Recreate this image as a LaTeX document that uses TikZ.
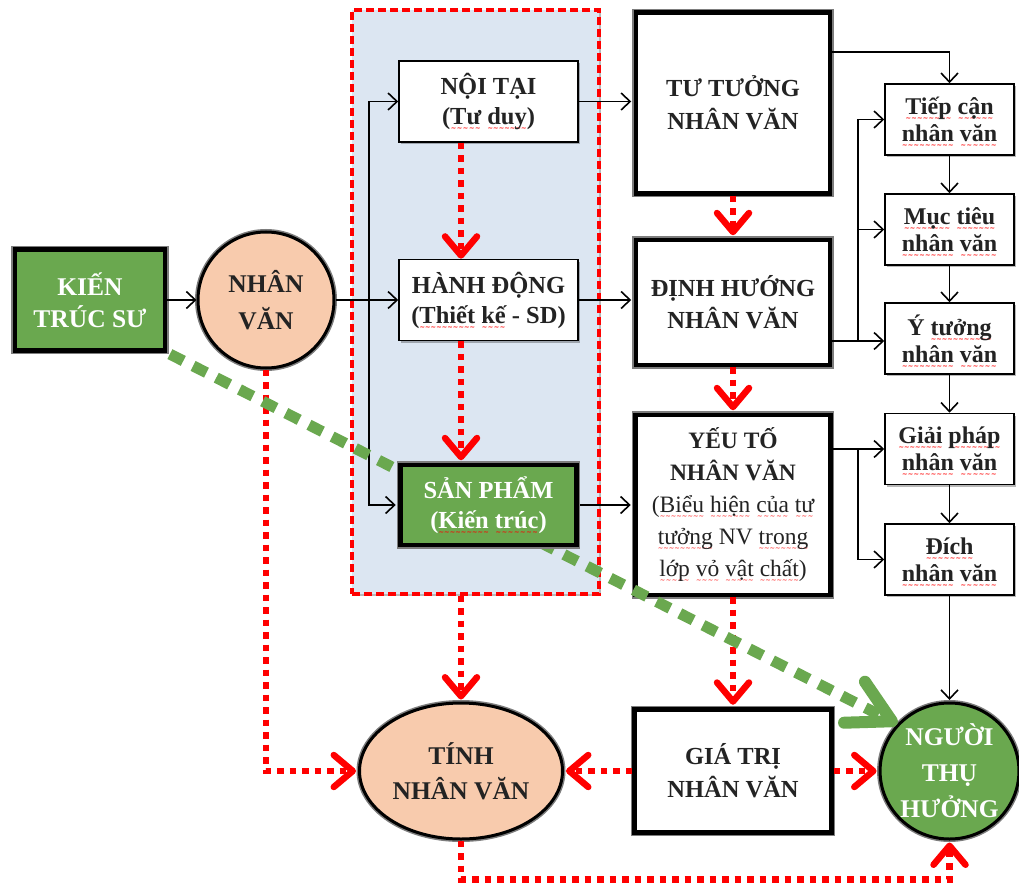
\documentclass[tikz,border=0pt]{standalone}
\usepackage{fontspec}
\setmainfont{Liberation Serif}
\newfontfamily\wavefont{DejaVu Sans}
\usetikzlibrary{arrows.meta,shadows,shapes.geometric}

\definecolor{leaf}{RGB}{106,168,79}
\definecolor{peach}{RGB}{248,203,173}
\definecolor{pale}{RGB}{220,230,242}
\definecolor{ink}{RGB}{35,35,35}
\definecolor{rim}{RGB}{125,125,125}

% red wavy spell-check underline under one word
\newcommand\spl[1]{\leavevmode\setbox0\hbox{#1}%
  \rlap{\raisebox{-6pt}[0pt][0pt]{\color{red}\hbox to \wd0{%
    \xleaders\hbox{\wavefont\fontsize{6.5}{6.5}\selectfont\char"223C}\hfill}}}\box0\relax}

\pgfdeclarelayer{back}
\pgfdeclarelayer{front}
\pgfsetlayers{back,main,front}

\begin{document}
\begin{tikzpicture}[x=1pt,y=-1pt,
  every node/.style={inner sep=0pt, align=center, text=ink},
  bold/.style={font=\bfseries\fontsize{24.5}{#1}\selectfont},
  bold/.default=29,
  bigbold/.style={font=\bfseries\fontsize{25.5}{#1}\selectfont},
  softshadow/.style={drop shadow={shadow xshift=2pt,shadow yshift=-2pt,opacity=.28,fill=black}},
  thinbox/.style={rectangle, draw=black, line width=1.6pt, fill=white, softshadow},
  heavybox/.style={rectangle, draw=black, line width=4.5pt, fill=white, softshadow,
    preaction={draw=rim, line width=7.5pt}},
  blob/.style={ellipse, draw=black, line width=3pt, fill=peach, softshadow,
    preaction={draw=rim, line width=6pt}},
  zone/.style={rectangle, draw=red, line width=3.2pt, dash pattern=on 8pt off 4pt,
    fill=pale, minimum width=247pt, minimum height=584pt, softshadow},
  small/.style={thinbox, font=\bfseries\fontsize{24}{27}\selectfont,
    minimum width=129pt, minimum height=71pt},
  blk/.style={draw=black, line width=1.6pt},
  arr/.style={blk, -{Straight Barb[length=9pt,width=17pt]}},
  reddot/.style={draw=red, line width=6.5pt, dash pattern=on 6.5pt off 6pt,
    -{Straight Barb[length=19pt,width=32pt,line width=6.5pt,round]}},
  grn/.style={draw=leaf, line width=11pt, dash pattern=on 15pt off 11pt,
    -{Straight Barb[length=42pt,width=46pt,line width=12pt,round]}}
]
\useasboundingbox (0,0) rectangle (1019,885);

% shaded block around the design stages
\begin{pgfonlayer}{back}
  \fill[white] (0,0) rectangle (1019,885);
  \node[zone] (zone) at (475.5,302) {};
\end{pgfonlayer}

% left side
\node[heavybox, fill=leaf, text=white, bigbold=32, minimum width=150pt, minimum height=101pt]
  (kts) at (90,300) {KIẾN\\TRÚC SƯ};
\node[blob, bigbold=37, minimum width=136pt, minimum height=136pt]
  (nv) at (266,300) {NHÂN\\VĂN};

% design stages
\node[thinbox, bold=30, minimum width=179pt, minimum height=81pt]
  (noitai) at (488.5,101.5) {NỘI TẠI\\(\spl{Tư} \spl{duy})};
\node[thinbox, bold=30, minimum width=179pt, minimum height=81pt]
  (hanhdong) at (488.5,300) {HÀNH ĐỘNG\\(\spl{Thiết} \spl{kế} - SD)};
\begin{pgfonlayer}{front}
  \node[heavybox, fill=leaf, text=white, bold=30, minimum width=176pt, minimum height=80pt]
    (sanpham) at (488.5,505) {SẢN PHẨM\\(\spl{Kiến} \spl{trúc})};
\end{pgfonlayer}

% humanist content column
\node[heavybox, bold=33, minimum width=194pt, minimum height=181pt]
  (tutuong) at (733,103) {TƯ TƯỞNG\\NHÂN VĂN};
\node[heavybox, bold=32, minimum width=194pt, minimum height=125pt]
  (dinhhuong) at (733,302.5) {ĐỊNH HƯỚNG\\NHÂN VĂN};
\node[heavybox, font=\fontsize{23.5}{32}\selectfont, minimum width=195pt, minimum height=180pt]
  (yeuto) at (733,505) {\textbf{YẾU TỐ}\\\textbf{NHÂN VĂN}\\(\spl{Biểu} \spl{hiện} \spl{của} \spl{tư}\\\spl{tưởng} NV \spl{trong}\\\spl{lớp} \spl{vỏ} \spl{vật} \spl{chất})};

% right column
\node[small] (tiepcan)  at (949.5,119.5) {\spl{Tiếp} \spl{cận}\\\spl{nhân} \spl{văn}};
\node[small] (muctieu)  at (949.5,229.5) {\spl{Mục} \spl{tiêu}\\\spl{nhân} \spl{văn}};
\node[small] (ytuong)   at (949.5,338.5) {Ý \spl{tưởng}\\\spl{nhân} \spl{văn}};
\node[small] (giaiphap) at (949.5,449)   {\spl{Giải} \spl{pháp}\\\spl{nhân} \spl{văn}};
\node[small] (dich)     at (949.5,559.5) {\spl{Đích}\\\spl{nhân} \spl{văn}};

% bottom row
\node[blob, bigbold=35, minimum width=203pt, minimum height=136pt]
  (tinh) at (461,771) {TÍNH\\NHÂN VĂN};
\node[heavybox, bold=33, minimum width=197pt, minimum height=123pt]
  (giatri) at (733,771) {GIÁ TRỊ\\NHÂN VĂN};
\node[blob, fill=leaf, text=white, bigbold=36, minimum width=134pt, minimum height=136pt]
  (nguoi) at (949.5,771) {NGƯỜI\\THỤ\\HƯỞNG};

% black flow lines
\coordinate (j1) at (369,300);
\draw[arr] (kts.east) -- (nv.west);
\draw[arr] (nv.east) -- (hanhdong.west);
\draw[arr] (j1) |- (noitai.west);
\draw[arr, shorten >=2.5pt] (j1) |- (sanpham.west);
\draw[arr, shorten >=2.5pt] (noitai.east) -- (noitai.east -| tutuong.west);
\draw[arr, shorten >=2.5pt] (hanhdong.east) -- (hanhdong.east -| dinhhuong.west);
\draw[arr, shorten >=2.5pt] (sanpham.east) -- (sanpham.east -| yeuto.west);

\draw[arr] (tutuong.east |- 0,52) -| (tiepcan.north);
\draw[arr] (tiepcan.south) -- (muctieu.north);
\draw[arr] (muctieu.south) -- (ytuong.north);
\draw[arr] (ytuong.south) -- (giaiphap.north);
\draw[arr] (giaiphap.south) -- (dich.north);
\draw[arr, shorten >=1.5pt] (dich.south) -- (nguoi.north);

\coordinate (j2) at (858,341);
\draw[arr] (dinhhuong.east |- j2) -- (ytuong.west |- j2);
\draw[arr] (j2) |- (tiepcan.west);
\draw[arr] (j2) |- (muctieu.west);

\coordinate (j3) at (858,449);
\draw[arr] (yeuto.east |- giaiphap.west) -- (giaiphap.west);
\draw[arr] (j3) |- (dich.west);

% red dotted links
\draw[reddot] (noitai.south -| tinh.north) -- (hanhdong.north -| tinh.north);
\draw[reddot, shorten >=2.5pt] (hanhdong.south -| tinh.north) -- (sanpham.north -| tinh.north);
\draw[reddot, shorten >=2.5pt] (tutuong.south) -- (dinhhuong.north);
\draw[reddot, shorten >=2.5pt] (dinhhuong.south) -- (yeuto.north);
\draw[reddot, shorten >=2.5pt] (yeuto.south) -- (giatri.north);
\draw[reddot, shorten >=2pt] (zone.south -| tinh.north) -- (tinh.north);
\draw[reddot, shorten >=2pt] (nv.south) |- (tinh.west);
\draw[reddot, shorten >=2pt] (giatri.west) -- (tinh.east);
\draw[reddot, shorten >=2pt] (giatri.east) -- (nguoi.west);
\draw[reddot, shorten >=2pt] (tinh.south) -- ++(0,39) -| (nguoi.south);

% green link from the architect to the user
\draw[grn, shorten <=3pt] (kts.south east) -- (nguoi.138);
\end{tikzpicture}
\end{document}
